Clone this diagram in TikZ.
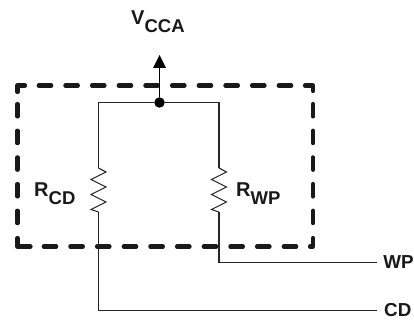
\documentclass[tikz,border=0pt]{standalone}
\usepackage{fontspec}
\setmainfont{Liberation Sans}
\newcommand{\subtxt}[1]{\raisebox{-7.3pt}{\fontsize{18.5}{18.5}\selectfont #1}}
\begin{document}
\begin{tikzpicture}[x=1pt,y=-1pt,
  wire/.style={line width=1.1pt,draw=black!85,line join=miter},
  solidbox/.style={line width=4.2pt,draw=black!90,line cap=round,line join=round},
  box/.style={solidbox,dash pattern=on 12.47pt off 14.2pt},
  lbl/.style={inner sep=0pt,text=black!90,font=\bfseries\fontsize{20}{20}\selectfont,anchor=base west},
  endlbl/.style={lbl,font=\bfseries\fontsize{18.8}{18.8}\selectfont},
  dotn/.style={circle,fill=black,inner sep=0pt,minimum size=10.5pt}]
\useasboundingbox (0,0) rectangle (414,320);
% dashed module outline
\draw[solidbox] (17.5,92) -- (17.5,85.5) -- (25,85.5);
\draw[box] (38.7,85.5) -- (302,85.5);
\draw[solidbox] (305,85.5) -- (313,85.5) -- (313,91);
\draw[box] (313,104) -- (313,225);
\draw[solidbox] (313,238) -- (313,246.5) -- (310,246.5);
\draw[box] (17.5,104) -- (17.5,225);
\draw[solidbox] (17.5,238) -- (17.5,246.5) -- (30.5,246.5);
\draw[box] (43.7,246.5) -- (298,246.5);
% nodes
\node[dotn] (top) at (159.5,102.5) {};
\coordinate (lt) at (98.5,102.5);
\coordinate (rt) at (219,102.5);
\coordinate (ra) at (98.5,168);
\coordinate (rb) at (98.5,212);
\coordinate (sa) at (219,168);
\coordinate (sb) at (219,212);
\coordinate (up) at (159.5,55);
\node[endlbl] (wp) at (383.2,268.5) {WP};
\node[endlbl] (cd) at (384,316.5) {CD};
\coordinate (we) at (377,262.5);
\coordinate (ce) at (377,310.5);
\node[lbl] (vcca) at (131,25) {V\subtxt{CCA}};
\node[lbl] (rcd) at (34,196.7) {R\subtxt{CD}};
\node[lbl] (rwp) at (236,196.7) {R\subtxt{WP}};
% wires
\draw[wire] (ra) -- (lt) -- (top) -- (rt) -- (sa);
\draw[wire] (ra) -- ++(7.5,4) -- ++(-15,7.5) -- ++(15,7.5) -- ++(-15,7.5) -- ++(15,7.5) -- ++(-15,7.5) -- (rb);
\draw[wire] (sa) -- ++(7.5,4) -- ++(-15,7.5) -- ++(15,7.5) -- ++(-15,7.5) -- ++(15,7.5) -- ++(-15,7.5) -- (sb);
\draw[wire] (rb) |- (ce);
\draw[wire] (sb) |- (we);
\draw[line width=1.3pt,black] (top) -- (up |- 0,68);
\fill (up) -- ++(6.5,13) -- ++(-13,0) -- cycle;
\end{tikzpicture}
\end{document}
